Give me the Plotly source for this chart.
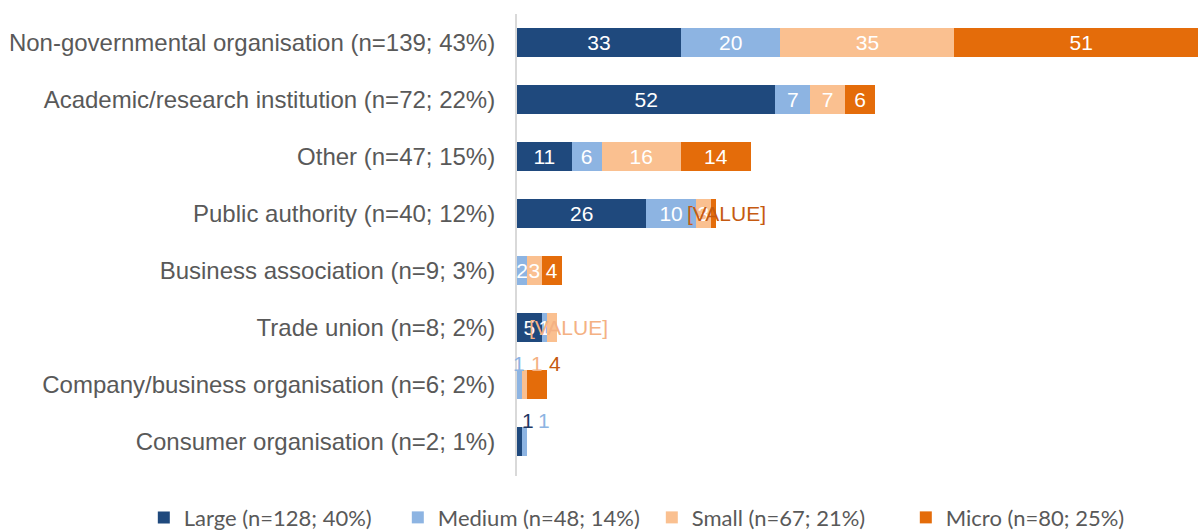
import plotly.graph_objects as go

categories = [
    "Non-governmental organisation (n=139; 43%)",
    "Academic/research institution (n=72; 22%)",
    "Other (n=47; 15%)",
    "Public authority (n=40; 12%)",
    "Business association (n=9; 3%)",
    "Trade union (n=8; 2%)",
    "Company/business organisation (n=6; 2%)",
    "Consumer organisation (n=2; 1%)",
]
large = [33, 52, 11, 26, 0, 5, 0, 1]
medium = [20, 7, 6, 10, 2, 1, 1, 1]
small = [35, 7, 16, 3, 3, 2, 1, 0]
micro = [51, 6, 14, 1, 4, 0, 4, 0]

series_names = ["Large (n=128; 40%)", "Medium (n=48; 14%)", "Small (n=67; 21%)", "Micro (n=80; 25%)"]
colors = ["#1F497D", "#8DB4E2", "#FAC090", "#E46C0A"]
label_colors = ["#1F3864", "#8DB4E2", "#F4B183", "#C55A11"]

series = [large, medium, small, micro]

LABEL_FONT = "Liberation Sans, Arial, sans-serif"

# labels drawn as callouts instead of inside text
# (series index, category index, text, xshift, yshift)
callouts = [
    (3, 3, "[VALUE]", 13, 0),
    (2, 5, "[VALUE]", 17, 0),
    (1, 6, "1", 0, 21),
    (2, 6, "1", 13, 21),
    (3, 6, "4", 18, 21),
    (0, 7, "1", 9, 21),
    (1, 7, "1", 20, 21),
]
callout_keys = {(s, c) for s, c, *_ in callouts}

fig = go.Figure()
for si, (vals, name, col) in enumerate(zip(series, series_names, colors)):
    texts = []
    for ci, v in enumerate(vals):
        if v == 0 or (si, ci) in callout_keys:
            texts.append("")
        else:
            texts.append(str(v))
    fig.add_trace(go.Bar(
        y=categories, x=vals, name=name, orientation="h",
        marker=dict(color=col, line=dict(width=0)),
        text=texts, textposition="inside", insidetextanchor="middle", textangle=0,
        textfont=dict(color="white", size=21, family=LABEL_FONT),
        hoverinfo="x+y+name",
    ))


def seg_center(si, ci):
    start = sum(series[k][ci] for k in range(si))
    return start + series[si][ci] / 2


annotations = []
for si, ci, txt, xs, ys in callouts:
    annotations.append(dict(
        x=seg_center(si, ci), y=categories[ci], xref="x", yref="y",
        text=txt, showarrow=False, xshift=xs, yshift=ys,
        font=dict(color=label_colors[si], size=21, family=LABEL_FONT),
    ))

fig.update_layout(
    barmode="stack",
    width=1198, height=531,
    margin=dict(l=517, r=0, t=14, b=55, autoexpand=False),
    plot_bgcolor="white", paper_bgcolor="white",
    bargap=0.5,
    uniformtext=dict(mode="show", minsize=21),
    showlegend=True,
    legend=dict(
        orientation="h", x=-0.548, xref="paper", xanchor="left",
        y=-0.09, yref="paper", yanchor="middle",
        font=dict(size=22, color="#595959", family="Lato, Carlito, sans-serif"),
        traceorder="normal", itemwidth=30,
        entrywidth=209, entrywidthmode="pixels",
    ),
    annotations=annotations,
    xaxis=dict(range=[0, 137], showgrid=False, showticklabels=False, zeroline=False,
               showline=False, fixedrange=True, automargin=False),
    yaxis=dict(
        categoryorder="array", categoryarray=categories, autorange="reversed",
        showgrid=False, zeroline=False, showline=True, linecolor="#D9D9D9", linewidth=2,
        ticks="", ticklabelstandoff=15, automargin=False,
        tickfont=dict(size=24, color="#595959", family=LABEL_FONT),
    ),
)

fig.write_html("out.html", config={"displayModeBar": False},
               post_script="document.body.style.margin='0';")
